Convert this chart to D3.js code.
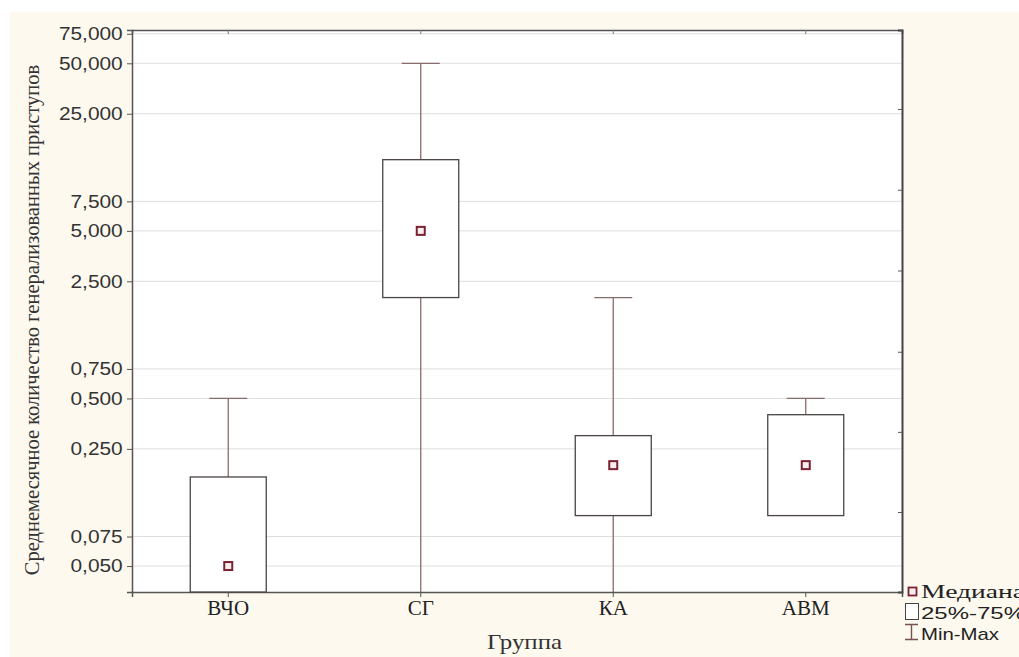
<!DOCTYPE html>
<html>
<head>
<meta charset="utf-8">
<script src="https://cdn.jsdelivr.net/npm/d3@7"></script>
<style>
  body { margin: 0; background: #fff; }
  svg { display: block; }
</style>
</head>
<body>
<script>
// groups and their stats (min of 0 = below the visible range)
const groups = ['ВЧО', 'СГ', 'КА', 'АВМ']
const medians = [0.05, 5.0, 0.2, 0.2]
const q1 = [0, 2.0, 0.1, 0.1]
const q3 = [0.17, 13.3, 0.3, 0.4]
const mins = [0, 0, 0, 0.1]
const maxs = [0.5, 50, 2.0, 0.5]
const yTicks = [0.05, 0.075, 0.25, 0.5, 0.75, 2.5, 5, 7.5, 25, 50, 75]
const rightTicks = [0.105, 0.316, 0.95, 2.9, 8.8, 26.7]

const W = 1019, H = 657
const margin = {top: 30, right: 117, bottom: 65, left: 132}
const width = W - margin.left - margin.right
const height = H - margin.top - margin.bottom
const serif = 'Liberation Serif, Times New Roman, serif'
const sans = 'Liberation Sans, Arial, sans-serif'

const svg = d3.select('body').append('svg')
  .attr('width', W).attr('height', H)

// cream background
svg.append('rect').attr('x', 10).attr('y', 12).attr('width', W - 10).attr('height', H - 12)
  .attr('fill', '#fdf9ef')

const g = svg.append('g').attr('transform', `translate(${margin.left},${margin.top})`)

const x = d3.scaleBand().domain(groups).range([0, width])
const y = d3.scaleLog().domain([0.035, 79]).range([height, 0])
const yv = v => y(Math.max(v, y.domain()[0]))

g.append('rect').attr('width', width).attr('height', height).attr('fill', '#fff')

// grid
g.selectAll('.grid').data(yTicks).join('line')
  .attr('x1', 0).attr('x2', width)
  .attr('y1', d => y(d)).attr('y2', d => y(d))
  .attr('stroke', '#dedede').attr('stroke-width', 1)

const yAxis = g.append('g')
  .call(d3.axisLeft(y).tickValues(yTicks).tickSize(5).tickPadding(3)
    .tickFormat(d => d3.format('.3f')(d).replace('.', ',')))
yAxis.select('.domain').attr('stroke', '#555').attr('stroke-width', 1.5)
yAxis.selectAll('.tick line').attr('stroke', '#555')
yAxis.selectAll('text').attr('font-family', sans)
  .attr('font-size', 18).attr('fill', '#333').attr('transform', 'scale(1.16,1)')

const xAxis = g.append('g').attr('transform', `translate(0,${height})`)
  .call(d3.axisBottom(x).tickSize(5).tickPadding(3))
xAxis.select('.domain').attr('stroke', '#555').attr('stroke-width', 1.5)
xAxis.selectAll('.tick line').attr('stroke', '#555')
xAxis.selectAll('text').attr('font-family', serif)
  .attr('font-size', 21).attr('fill', '#222')

// top and right frame
const topAxis = g.append('g').call(d3.axisTop(x).tickSize(-4).tickFormat(''))
topAxis.select('.domain').attr('stroke', '#555').attr('stroke-width', 1.5)
topAxis.selectAll('.tick line').attr('stroke', '#777')
const rightAxis = g.append('g').attr('transform', `translate(${width},0)`)
  .call(d3.axisRight(y).tickValues(rightTicks).tickSize(-4).tickFormat(''))
rightAxis.select('.domain').attr('stroke', '#444').attr('stroke-width', 2)
rightAxis.selectAll('.tick line').attr('stroke', '#555')

// boxes
const data = groups.map((k, i) => ({k, med: medians[i], q1: q1[i], q3: q3[i], min: mins[i], max: maxs[i]}))
const boxW = 76, capW = 38
const items = g.selectAll('.item').data(data).join('g')
  .attr('transform', d => `translate(${x(d.k) + x.bandwidth() / 2},0)`)

items.append('line').attr('x1', 0).attr('x2', 0)
  .attr('y1', d => yv(d.max)).attr('y2', d => yv(d.min))
  .attr('stroke', '#8a6b6b').attr('stroke-width', 1.3)
items.append('line').attr('x1', -capW / 2).attr('x2', capW / 2)
  .attr('y1', d => yv(d.max)).attr('y2', d => yv(d.max))
  .attr('stroke', '#8a6b6b').attr('stroke-width', 1.3)
items.append('rect').attr('x', -boxW / 2).attr('width', boxW)
  .attr('y', d => yv(d.q3)).attr('height', d => yv(d.q1) - yv(d.q3))
  .attr('fill', '#fff').attr('stroke', '#4a4444').attr('stroke-width', 1.3)
items.append('rect').attr('x', -4).attr('width', 8)
  .attr('y', d => yv(d.med) - 4).attr('height', 8)
  .attr('fill', '#f8eeee').attr('stroke', '#7a2030').attr('stroke-width', 2)

// axis titles
svg.append('text').attr('x', 487).attr('y', 649)
  .attr('font-family', serif).attr('font-size', 21).attr('fill', '#333')
  .attr('textLength', 75).attr('lengthAdjust', 'spacingAndGlyphs').text('Группа')
svg.append('text').attr('transform', `translate(39,${margin.top + height / 2 + 9}) rotate(-90)`)
  .attr('text-anchor', 'middle').attr('font-family', serif)
  .attr('font-size', 20.5).attr('fill', '#333').text('Среднемесячное количество генерализованных приступов')

// legend
const lg = svg.append('g').attr('transform', 'translate(905,0)')
lg.append('rect').attr('x', 3.5).attr('y', 587.5).attr('width', 8).attr('height', 8)
  .attr('fill', '#f8eeee').attr('stroke', '#7a2030').attr('stroke-width', 1.8)
lg.append('text').attr('x', 16).attr('y', 598).attr('font-family', serif)
  .attr('font-size', 19).attr('fill', '#222')
  .attr('textLength', 104).attr('lengthAdjust', 'spacingAndGlyphs').text('Медиана')
lg.append('rect').attr('x', 0.5).attr('y', 603.5).attr('width', 13).attr('height', 16)
  .attr('fill', '#fff').attr('stroke', '#444').attr('stroke-width', 1)
lg.append('text').attr('x', 16).attr('y', 619).attr('font-family', sans)
  .attr('font-size', 17).attr('fill', '#222')
  .attr('textLength', 104).attr('lengthAdjust', 'spacingAndGlyphs').text('25%-75%')
lg.append('path').attr('d', 'M0,624.5H13M6.5,624.5V639.5M0,639.5H13')
  .attr('fill', 'none').attr('stroke', '#7a5050').attr('stroke-width', 1.4)
lg.append('text').attr('x', 16).attr('y', 640).attr('font-family', sans)
  .attr('font-size', 17).attr('fill', '#222')
  .attr('textLength', 78).attr('lengthAdjust', 'spacingAndGlyphs').text('Min-Max')
</script>
</body>
</html>
